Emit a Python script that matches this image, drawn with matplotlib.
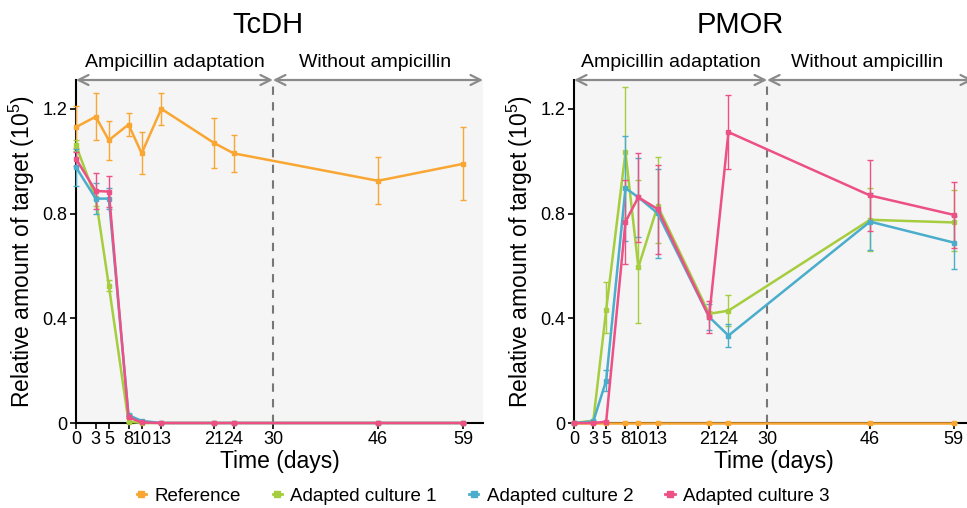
import matplotlib
matplotlib.use("Agg")
import matplotlib.pyplot as plt
from matplotlib.lines import Line2D
import numpy as np

plt.rcParams['font.family'] = ['Liberation Sans', 'DejaVu Sans']
plt.rcParams['mathtext.fontset'] = 'custom'
plt.rcParams['mathtext.rm'] = 'Liberation Sans'

days = [0, 3, 5, 8, 10, 13, 21, 24, 46, 59]
tick_days = [0, 3, 5, 8, 10, 13, 21, 24, 30, 46, 59]
yticks = [0, 0.4, 0.8, 1.2]
ytick_labels = ["0", "0.4", "0.8", "1.2"]
series_names = ["Reference", "Adapted culture 1", "Adapted culture 2", "Adapted culture 3"]
colors = ["#F9A633", "#A5CD3E", "#4AADCB", "#EC5085"]
titles = ["TcDH", "PMOR"]
phase_labels = ["Ampicillin adaptation", "Without ampicillin"]

# TcDH
tc_ref = [1.13, 1.17, 1.08, 1.14, 1.03, 1.20, 1.07, 1.03, 0.925, 0.99]
tc_ref_err = [0.08, 0.09, 0.075, 0.045, 0.08, 0.06, 0.095, 0.07, 0.09, 0.14]
tc_c1 = [1.06, 0.86, 0.525, 0.005, 0, 0, 0, 0, 0, 0]
tc_c1_err = [0.02, 0.03, 0.02, 0, 0, 0, 0, 0, 0, 0]
tc_c2 = [0.977, 0.857, 0.857, 0.03, 0.008, 0, 0, 0, 0, 0]
tc_c2_err = [0.07, 0.06, 0.04, 0.005, 0, 0, 0, 0, 0, 0]
tc_c3 = [1.009, 0.886, 0.884, 0.022, 0.002, 0, 0, 0, 0, 0]
tc_c3_err = [0.026, 0.07, 0.06, 0.004, 0, 0, 0, 0, 0, 0]

# PMOR
pm_ref = [0, 0, 0, 0, 0, 0, 0, 0, 0, 0]
pm_ref_err = [0, 0, 0, 0, 0, 0, 0, 0, 0, 0]
pm_c1 = [0, 0.009, 0.432, 1.034, 0.595, 0.829, 0.417, 0.429, 0.776, 0.766]
pm_c1_lo = [0, 0, 0.09, 0.25, 0.214, 0.14, 0.01, 0.06, 0.12, 0.11]
pm_c1_hi = [0, 0, 0.105, 0.25, 0.334, 0.186, 0.01, 0.06, 0.12, 0.124]
pm_c2 = [0, 0.006, 0.162, 0.897, 0.862, 0.801, 0.405, 0.334, 0.769, 0.689]
pm_c2_err = [0, 0, 0.04, 0.2, 0.15, 0.17, 0.05, 0.045, 0.11, 0.1]
pm_c3 = [0, 0, 0.005, 0.769, 0.862, 0.817, 0.405, 1.111, 0.869, 0.795]
pm_c3_err = [0, 0, 0, 0.16, 0.17, 0.17, 0.06, 0.14, 0.135, 0.125]

tc_series = [(tc_ref, tc_ref_err, tc_ref_err), (tc_c1, tc_c1_err, tc_c1_err),
             (tc_c2, tc_c2_err, tc_c2_err), (tc_c3, tc_c3_err, tc_c3_err)]
pm_series = [(pm_ref, pm_ref_err, pm_ref_err), (pm_c1, pm_c1_lo, pm_c1_hi),
             (pm_c2, pm_c2_err, pm_c2_err), (pm_c3, pm_c3_err, pm_c3_err)]

W, H = 967, 508
fig = plt.figure(figsize=(W / 100, H / 100), dpi=100)
ax1 = fig.add_axes([76 / W, 85 / H, 407 / W, 343 / H])
ax2 = fig.add_axes([574 / W, 85 / H, 399 / W, 343 / H])

YMAX = 1.31
XMAX = 62

def draw(ax, series, order, title, title_x):
    ax.set_facecolor("#F5F5F5")
    for i in order:
        y, lo, hi = series[i]
        ax.errorbar(days, y, yerr=[lo, hi], color=colors[i], lw=1.8,
                    marker='s', ms=3.5, elinewidth=1.0, capsize=2, capthick=1.0,
                    ecolor=colors[i], zorder=3 + i * 0.1, clip_on=False)
    ax.axvline(30, color="#777777", lw=1.5, ls=(0, (4, 3.5)), zorder=2)
    ax.set_xlim(0, XMAX)
    ax.set_ylim(0, YMAX)
    ax.set_xticks(tick_days)
    ax.set_xticklabels([str(d) for d in tick_days])
    ax.set_yticks(yticks)
    ax.set_yticklabels(ytick_labels)
    for s in ["top", "right"]:
        ax.spines[s].set_visible(False)
    for s in ["left", "bottom"]:
        ax.spines[s].set_linewidth(1.5)
        ax.spines[s].set_zorder(1)
    ax.tick_params(direction='out', length=4, width=1.2, labelsize=13, pad=2)
    ax.set_xlabel("Time (days)", fontsize=16.5, labelpad=1)
    ax.set_ylabel(r"Relative amount of target (10$^{\mathregular{5}}$)", fontsize=16.5, labelpad=4)
    # phase arrows
    arrow_kw = dict(arrowstyle='<->', color='#8A8A8A', lw=1.6, mutation_scale=18,
                    shrinkA=0, shrinkB=0)
    ax.annotate("", xy=(0, YMAX), xytext=(30, YMAX), xycoords='data',
                arrowprops=arrow_kw, annotation_clip=False)
    ax.annotate("", xy=(30, YMAX), xytext=(XMAX, YMAX), xycoords='data',
                arrowprops=arrow_kw, annotation_clip=False)
    ax.text(15, YMAX + 0.066, phase_labels[0], ha='center', va='center', fontsize=14)
    ax.text((30 + XMAX) / 2 - 0.5, YMAX + 0.066, phase_labels[1], ha='center', va='center', fontsize=14)
    fig.text(title_x / W, 1 - 25 / H, title, ha='center', va='center', fontsize=21)

draw(ax1, tc_series, [0, 1, 2, 3], titles[0], 268)
draw(ax2, pm_series, [1, 2, 3, 0], titles[1], 740)

handles = [Line2D([0], [0], color=c, lw=2, marker='s', ms=5) for c in colors]
fig.legend(handles, series_names, loc='center', bbox_to_anchor=(483 / W, 1 - 496 / H),
           ncol=4, frameon=False, fontsize=13.5, handlelength=0.5, handletextpad=0.45,
           columnspacing=1.7, borderaxespad=0)

fig.savefig("out.png", dpi=100)
